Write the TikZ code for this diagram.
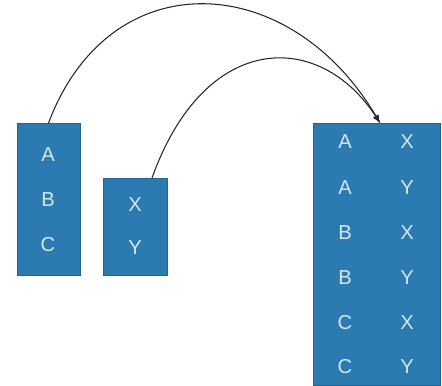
\documentclass[tikz,border=0pt]{standalone}
\usepackage{fontspec}
\setmainfont{Liberation Sans}
\usepackage{xcolor}
\usepackage{tikz}
\usetikzlibrary{arrows}
\usetikzlibrary{calc}

\definecolor{boxblue}{RGB}{44,122,178}
\definecolor{boxedge}{RGB}{36,100,148}
\definecolor{lettercol}{RGB}{212,231,244}

\begin{document}
\begin{tikzpicture}[thick,scale=1,
    table/.style={rectangle,fill=boxblue,draw=boxedge,line width=0.4pt,inner sep=0pt,outer sep=0pt,anchor=south west},
    letter/.style={text=lettercol,font=\fontsize{11.5}{13}\selectfont}]
\useasboundingbox (0,0) rectangle (8.84,7.7);
% the two input tables and the joined one
\node[table,minimum width=1.26cm,minimum height=3.04cm] (abc) at (0.34,2.2) {};
\node[table,minimum width=1.28cm,minimum height=1.94cm] (xy) at (2.06,2.2) {};
\node[table,minimum width=2.54cm,minimum height=5.24cm] (prod) at (6.26,0) {};
\foreach \y/\ltext in {4.6/A, 3.7/B, 2.8/C}
    \node[letter] (abc-\ltext) at (0.96,\y) {\ltext};
\foreach \y/\ltext in {3.6/X, 2.74/Y}
    \node[letter] (xy-\ltext) at (2.7,\y) {\ltext};
\foreach \y/\ltext/\rtext [count=\i] in {4.86/A/X, 3.94/A/Y, 3.04/B/X, 2.14/B/Y, 1.24/C/X, 0.36/C/Y} {
    \node[letter] (prod-l\i) at (6.9,\y) {\ltext};
    \node[letter] (prod-r\i) at (8.14,\y) {\rtext};
}
% arcs into the product
\draw [black!85,line width=0.6pt,-latex] (abc.north) .. controls (2.2,8.5) and (5.8,8.3) .. ($(prod.north)+(0.07,0)$);
\draw [black!85,line width=0.6pt,-latex] ($(xy.north)+(0.34,0)$) .. controls (4.1,7.1) and (6.4,7.1) .. ($(prod.north)+(0.07,0)$);
\end{tikzpicture}
\end{document}
